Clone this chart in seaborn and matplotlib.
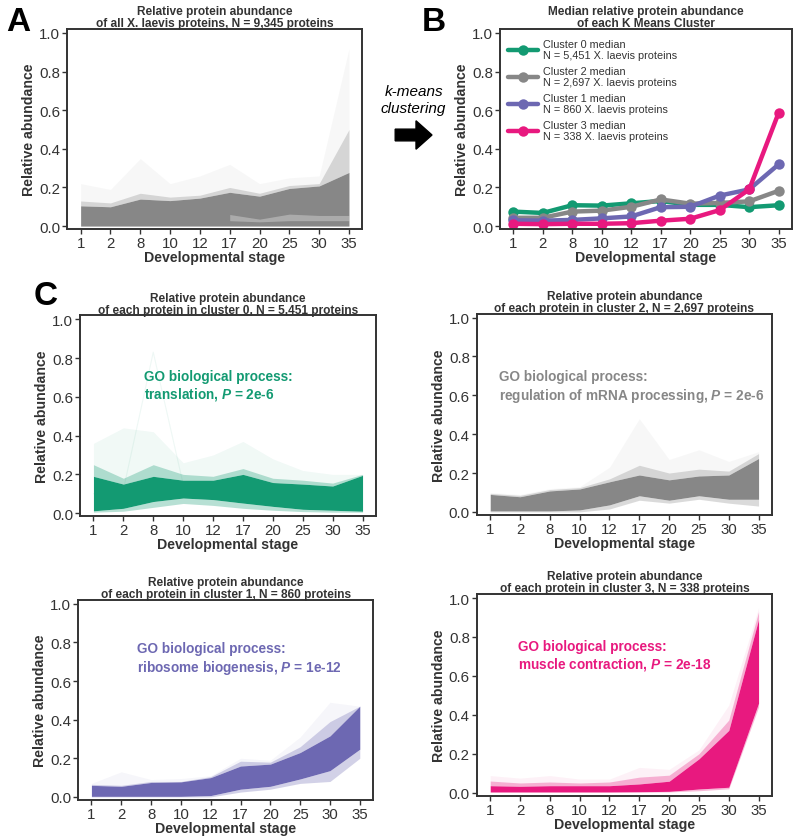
import numpy as np
import pandas as pd
import matplotlib
matplotlib.use("Agg")
import matplotlib.pyplot as plt
import seaborn as sns
from matplotlib.patches import FancyArrow

sns.set_theme(style="white")
plt.rcParams['font.family'] = ['Liberation Sans', 'DejaVu Sans']
plt.rcParams['mathtext.fontset'] = 'custom'
plt.rcParams['mathtext.it'] = 'Liberation Sans:italic:bold'
plt.rcParams['mathtext.rm'] = 'Liberation Sans:bold'

# ---------------- data ----------------
stages = ["1", "2", "8", "10", "12", "17", "20", "25", "30", "35"]

# Panel A: all proteins (envelopes of the line bundle)
all_core_lo = [0.00, 0.00, 0.00, 0.00, 0.00, 0.00, 0.00, 0.00, 0.00, 0.00]
all_core_hi = [0.105, 0.100, 0.140, 0.132, 0.145, 0.175, 0.155, 0.195, 0.208, 0.278]
all_soft_hi = [0.13, 0.12, 0.17, 0.15, 0.16, 0.20, 0.17, 0.21, 0.22, 0.50]
all_faint_hi = [0.22, 0.19, 0.35, 0.22, 0.26, 0.32, 0.22, 0.25, 0.26, 0.92]
all_gap_lo = [np.nan, np.nan, np.nan, np.nan, np.nan, 0.028, 0.022, 0.028, 0.028, 0.028]
all_gap_hi = [np.nan, np.nan, np.nan, np.nan, np.nan, 0.060, 0.036, 0.062, 0.055, 0.055]

# Panel B: cluster medians
med_c0 = [0.075, 0.068, 0.108, 0.106, 0.118, 0.130, 0.110, 0.110, 0.098, 0.108]
med_c2 = [0.043, 0.043, 0.075, 0.080, 0.100, 0.138, 0.116, 0.120, 0.128, 0.183]
med_c1 = [0.030, 0.028, 0.032, 0.040, 0.050, 0.098, 0.100, 0.158, 0.190, 0.320]
med_c3 = [0.012, 0.010, 0.012, 0.012, 0.015, 0.028, 0.038, 0.083, 0.190, 0.588]

# Panel C: per-cluster bundles
c0_core_lo = [0.012, 0.025, 0.060, 0.078, 0.070, 0.052, 0.035, 0.020, 0.015, 0.010]
c0_core_hi = [0.190, 0.150, 0.190, 0.170, 0.170, 0.200, 0.158, 0.150, 0.140, 0.195]
c0_soft_lo = [0.005, 0.010, 0.030, 0.050, 0.040, 0.025, 0.015, 0.008, 0.005, 0.005]
c0_soft_hi = [0.25, 0.18, 0.25, 0.20, 0.19, 0.23, 0.18, 0.17, 0.155, 0.20]
c0_faint_hi = [0.36, 0.44, 0.42, 0.26, 0.30, 0.37, 0.28, 0.22, 0.20, 0.20]
c0_spike = [0.10, 0.12, 0.83, 0.15, 0.12, 0.14, 0.10, 0.10, 0.09, 0.10]

c2_core_lo = [0.005, 0.005, 0.005, 0.010, 0.036, 0.083, 0.060, 0.083, 0.065, 0.065]
c2_core_hi = [0.090, 0.078, 0.108, 0.118, 0.155, 0.190, 0.165, 0.185, 0.190, 0.275]
c2_soft_lo = [0.000, 0.000, 0.000, 0.000, 0.015, 0.060, 0.045, 0.065, 0.045, 0.030]
c2_soft_hi = [0.095, 0.085, 0.115, 0.125, 0.170, 0.240, 0.200, 0.220, 0.210, 0.300]
c2_faint_hi = [0.10, 0.09, 0.12, 0.13, 0.23, 0.48, 0.27, 0.32, 0.26, 0.31]

c1_core_lo = [0.003, 0.003, 0.003, 0.003, 0.007, 0.040, 0.055, 0.093, 0.136, 0.247]
c1_core_hi = [0.060, 0.055, 0.075, 0.078, 0.100, 0.160, 0.170, 0.230, 0.316, 0.470]
c1_soft_lo = [0.000, 0.000, 0.000, 0.000, 0.000, 0.025, 0.040, 0.070, 0.080, 0.200]
c1_soft_hi = [0.065, 0.060, 0.080, 0.080, 0.105, 0.185, 0.180, 0.260, 0.390, 0.470]
c1_faint_hi = [0.07, 0.13, 0.09, 0.095, 0.11, 0.20, 0.19, 0.31, 0.49, 0.47]

c3_core_lo = [0.004, 0.004, 0.004, 0.004, 0.004, 0.005, 0.007, 0.019, 0.028, 0.460]
c3_core_hi = [0.036, 0.033, 0.036, 0.036, 0.036, 0.045, 0.059, 0.174, 0.320, 0.890]
c3_soft_lo = [0.002, 0.002, 0.002, 0.002, 0.002, 0.003, 0.004, 0.010, 0.020, 0.440]
c3_soft_hi = [0.060, 0.050, 0.055, 0.050, 0.055, 0.080, 0.090, 0.200, 0.373, 0.930]
c3_faint_hi = [0.088, 0.075, 0.088, 0.070, 0.070, 0.130, 0.120, 0.220, 0.450, 0.950]

col_green = "#139a72"
col_gray = "#878787"
col_purple = "#6d68b2"
col_pink = "#e8197f"
dark = "#333333"

pos = np.arange(len(stages))

fig = plt.figure(figsize=(8.0, 8.37), dpi=100)


def style_axes(ax, title):
    ax.set_xlim(-0.45, 9.45)
    ax.set_ylim(-0.016, 1.02)
    ax.set_xticks(pos)
    ax.set_xticklabels(stages)
    ax.set_yticks([0.0, 0.2, 0.4, 0.6, 0.8, 1.0])
    ax.set_yticklabels(["0.0", "0.2", "0.4", "0.6", "0.8", "1.0"])
    ax.tick_params(axis="both", labelsize=10.8, colors=dark, length=3.5, width=1.0,
                   direction="out", bottom=True, left=True, pad=1.5)
    for sp in ax.spines.values():
        sp.set_color(dark)
        sp.set_linewidth(1.4)
    ax.set_xlabel("Developmental stage", fontsize=10.2, fontweight="bold", color=dark, labelpad=0)
    ax.set_ylabel("Relative abundance", fontsize=10.2, fontweight="bold", color=dark, labelpad=2)
    ax.set_title(title, fontsize=8.6, fontweight="bold", color=dark, pad=2.0, linespacing=1.0)
    ax.grid(False)


def bundle(ax, color, core_lo, core_hi, soft_lo, soft_hi, faint_hi):
    ax.fill_between(pos, np.array(core_hi), np.array(faint_hi), color=color, alpha=0.06, lw=0)
    ax.fill_between(pos, np.array(core_hi), np.array(soft_hi), color=color, alpha=0.30, lw=0)
    ax.fill_between(pos, np.array(soft_lo), np.array(core_lo), color=color, alpha=0.30, lw=0)
    ax.fill_between(pos, np.array(core_lo), np.array(core_hi), color=color, alpha=1.0, lw=0)


# ---------------- Panel A ----------------
axA = fig.add_axes([0.084, 0.725, 0.369, 0.239])
bundle(axA, col_gray, all_core_lo, all_core_hi, all_core_lo, all_soft_hi, all_faint_hi)
axA.fill_between(pos, np.array(all_gap_lo), np.array(all_gap_hi), color="white", alpha=0.3, lw=0)
style_axes(axA, "Relative protein abundance\nof all X. laevis proteins, N = 9,345 proteins")

# ---------------- Panel B ----------------
axB = fig.add_axes([0.625, 0.725, 0.365, 0.239])
labels = ["Cluster 0 median\nN = 5,451 X. laevis proteins",
          "Cluster 2 median\nN = 2,697 X. laevis proteins",
          "Cluster 1 median\nN = 860 X. laevis proteins",
          "Cluster 3 median\nN = 338 X. laevis proteins"]
meds = [med_c0, med_c2, med_c1, med_c3]
rows = []
for lab, m in zip(labels, meds):
    for p, v in zip(pos, m):
        rows.append({"pos": p, "value": v, "cluster": lab})
dfB = pd.DataFrame(rows)
sns.lineplot(data=dfB, x="pos", y="value", hue="cluster", hue_order=labels,
             palette=[col_green, col_gray, col_purple, col_pink], marker="o",
             markersize=7.5, markeredgewidth=0, linewidth=3.2, sort=False,
             estimator=None, ax=axB)
style_axes(axB, "Median relative protein abundance\nof each K Means Cluster")
leg = axB.legend(loc="upper left", frameon=False, fontsize=7.8, handlelength=2.8,
                 labelspacing=0.5, borderaxespad=0.3, handletextpad=0.5,
                 bbox_to_anchor=(0.0, 0.99))
for t in leg.get_texts():
    t.set_color(dark)

# ---------------- Panel C ----------------
go_fs = 9.8
axC0 = fig.add_axes([0.100, 0.382, 0.370, 0.240])
bundle(axC0, col_green, c0_core_lo, c0_core_hi, c0_soft_lo, c0_soft_hi, c0_faint_hi)
axC0.plot(pos, c0_spike, color=col_green, alpha=0.07, lw=0.8)
style_axes(axC0, "Relative protein abundance\nof each protein in cluster 0, N = 5,451 proteins")
axC0.text(1.7, 0.745, "GO biological process:\ntranslation, $P$ = 2e-6", color=col_green,
          fontsize=go_fs, fontweight="bold", va="top", ha="left", linespacing=1.2)

axC2 = fig.add_axes([0.596, 0.3835, 0.369, 0.2405])
bundle(axC2, col_gray, c2_core_lo, c2_core_hi, c2_soft_lo, c2_soft_hi, c2_faint_hi)
style_axes(axC2, "Relative protein abundance\nof each protein in cluster 2, N = 2,697 proteins")
axC2.text(0.3, 0.735, "GO biological process:\nregulation of mRNA processing, $P$ = 2e-6",
          color=col_gray, fontsize=go_fs, fontweight="bold", va="top", ha="left", linespacing=1.2)

axC1 = fig.add_axes([0.0975, 0.043, 0.369, 0.239])
bundle(axC1, col_purple, c1_core_lo, c1_core_hi, c1_soft_lo, c1_soft_hi, c1_faint_hi)
style_axes(axC1, "Relative protein abundance\nof each protein in cluster 1, N = 860 proteins")
axC1.text(1.53, 0.805, "GO biological process:\nribosome biogenesis, $P$ = 1e-12",
          color=col_purple, fontsize=go_fs, fontweight="bold", va="top", ha="left", linespacing=1.2)

axC3 = fig.add_axes([0.596, 0.048, 0.369, 0.241])
bundle(axC3, col_pink, c3_core_lo, c3_core_hi, c3_soft_lo, c3_soft_hi, c3_faint_hi)
style_axes(axC3, "Relative protein abundance\nof each protein in cluster 3, N = 338 proteins")
axC3.text(0.94, 0.79, "GO biological process:\nmuscle contraction, $P$ = 2e-18",
          color=col_pink, fontsize=go_fs, fontweight="bold", va="top", ha="left", linespacing=1.2)

# ---------------- annotations ----------------
fig.text(0.008, 0.992, "A", fontsize=24, fontweight="bold", va="top", ha="left", color="black")
fig.text(0.527, 0.992, "B", fontsize=24, fontweight="bold", va="top", ha="left", color="black")
fig.text(0.042, 0.664, "C", fontsize=24, fontweight="bold", va="top", ha="left", color="black")
fig.text(0.517, 0.880, "k-means\nclustering", fontsize=11, fontstyle="italic", ha="center",
         va="center", color="black", linespacing=1.2)
arrow = FancyArrow(0.494, 1 - 136 / 837, 0.046, 0.0, width=0.014, head_width=0.034,
                   head_length=0.02, length_includes_head=True, color="black",
                   transform=fig.transFigure)
fig.patches.append(arrow)

fig.savefig("out.png", dpi=100)
